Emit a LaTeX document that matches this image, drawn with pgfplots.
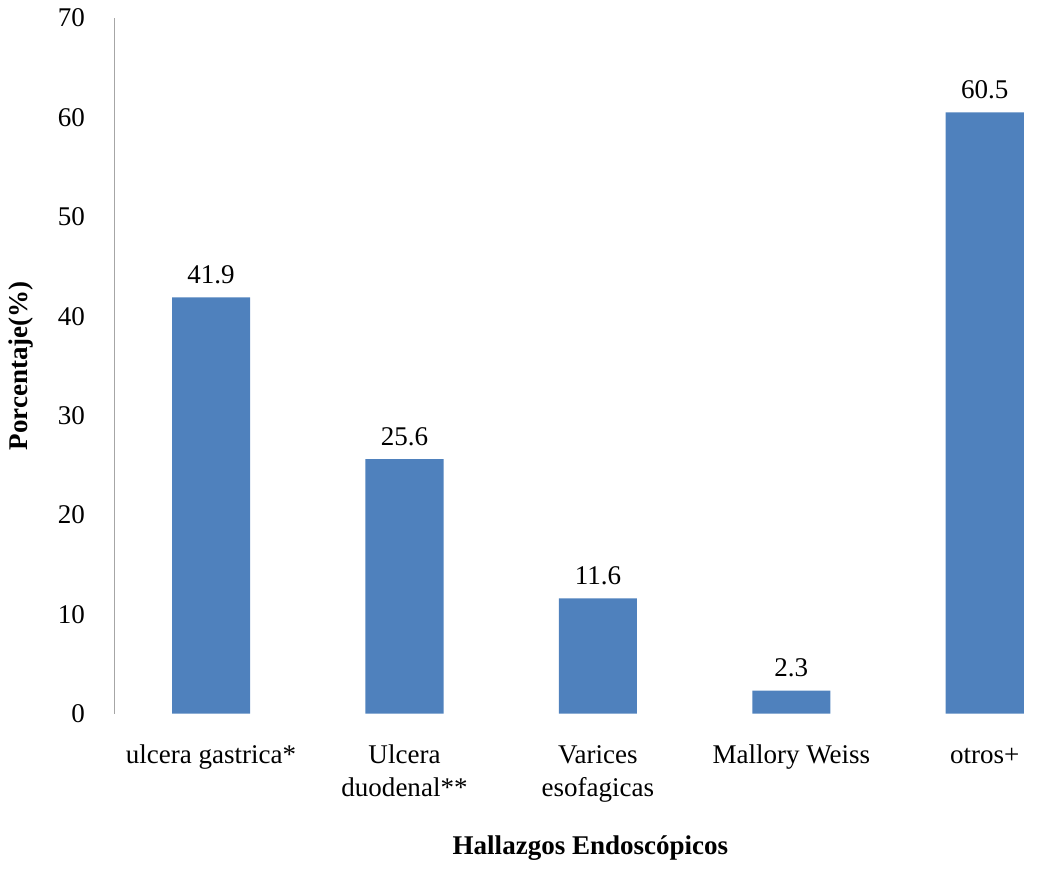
\documentclass[border=0pt]{standalone}
\usepackage{fontspec}
\setmainfont{Liberation Serif}
\usepackage{pgfplots}
\pgfplotsset{compat=1.18}
\definecolor{barblue}{HTML}{4F81BD}
\begin{document}
\fontsize{13.5}{16.5}\selectfont
\begin{tikzpicture}
\begin{axis}[
    ybar,
    scale only axis,
    width=461pt, height=347.5pt,
    xmin=-0.5, xmax=4.27,
    ymin=0, ymax=70,
    ytick={0,10,...,70},
    xtick=data,
    xticklabels={ulcera gastrica*,Ulcera\\duodenal**,Varices\\esofagicas,Mallory Weiss,otros+},
    typeset ticklabels with strut,
    xticklabel style={align=center, yshift=-8.5pt},
    yticklabel style={xshift=-10pt},
    major tick length=0pt,
    axis lines*=left,
    axis line style={-},
    x axis line style={draw=none},
    y axis line style={draw=gray!70, line width=0.8pt},
    bar width=39pt,
    /pgf/number format/assume math mode=true,
    /pgf/number format/fixed,
    /pgf/number format/precision=1,
    /pgf/number format/fixed zerofill,
    ticklabel style={font=\fontsize{13.5}{16.5}\selectfont},
    yticklabel={\pgfmathprintnumber[fixed,precision=0]{\tick}},
    nodes near coords,
    nodes near coords style={font=\fontsize{13.5}{16.5}\selectfont, yshift=2pt},
    ylabel={\textbf{Porcentaje(\%)}},
    ylabel style={yshift=3pt},
    xlabel={\textbf{Hallazgos Endoscópicos}},
    xlabel style={at={(ticklabel cs:0.516)}, yshift=-7.5pt},
    label style={font=\fontsize{13.5}{16.5}\selectfont},
]
\addplot[fill=barblue, draw=none] coordinates {(0,41.9) (1,25.6) (2,11.6) (3,2.3) (4,60.5)};
\end{axis}
\end{tikzpicture}
\end{document}
